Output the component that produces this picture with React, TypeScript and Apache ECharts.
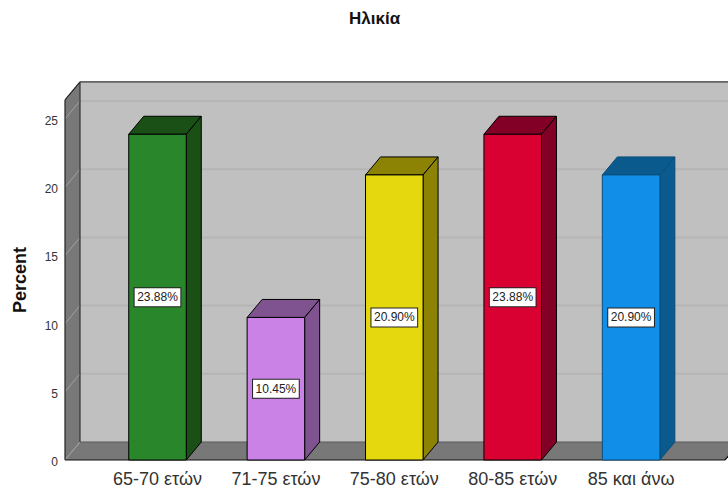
import React, { useEffect, useRef } from "react";
import * as echarts from "echarts";

const categories = ["65-70 ετών", "71-75 ετών", "75-80 ετών", "80-85 ετών", "85 και άνω"];
const percents = [23.88, 10.45, 20.9, 23.88, 20.9];
const frontColors = ["#29862a", "#cb82e6", "#e6d80e", "#d90032", "#118fe8"];
const sideColors = ["#1a5016", "#7f5290", "#8c8304", "#820026", "#0a5a8e"];
const edgeColors = ["#000000", "#000000", "#000000", "#000000", "#0a4f7c"];
const yTicks = [5, 10, 15, 20, 25];
const font = "Liberation Sans, Arial, sans-serif";

const DX = 15;
const DY = -18;
const WALL_TOP = 26.4;

function renderWalls(params: any, api: any) {
  const cs = params.coordSys;
  const x0 = cs.x - 33.3;
  const x1 = cs.x + cs.width + 34.7;
  const y0 = api.coord([0, 0])[1];
  const yTop = api.coord([0, WALL_TOP])[1];
  const line = (x1a: number, y1a: number, x2a: number, y2a: number, stroke: string, lineWidth = 1) => ({
    type: "line",
    silent: true,
    shape: { x1: x1a, y1: y1a, x2: x2a, y2: y2a },
    style: { stroke, lineWidth },
  });
  const children: any[] = [
    {
      type: "rect",
      shape: { x: x0 + DX, y: yTop + DY, width: x1 - x0, height: y0 - yTop },
      style: { fill: "#c0c0c0" },
    },
    {
      type: "polygon",
      shape: { points: [[x0, yTop], [x0 + DX, yTop + DY], [x0 + DX, y0 + DY], [x0, y0]] },
      style: { fill: "#787878" },
    },
    {
      type: "polygon",
      shape: { points: [[x0, y0], [x1, y0], [x1 + DX, y0 + DY], [x0 + DX, y0 + DY]] },
      style: { fill: "#787878" },
    },
  ];
  yTicks.forEach((t) => {
    const y = api.coord([0, t])[1];
    children.push(line(x0, y, x0 + DX, y + DY, "#a2a2a2"));
    children.push(line(x0 + DX, y + DY, x1 + DX, y + DY, "#b5b5b5", 2));
  });
  children.push(line(x0, y0, x0 + DX, y0 + DY, "#a2a2a2"));
  children.push(line(x0 + DX, y0 + DY, x1 + DX, y0 + DY, "#5a5a5a"));
  children.push(line(x0, yTop, x0, y0, "#222222", 1.2));
  children.push(line(x0 + DX, yTop + DY, x0 + DX, y0 + DY, "#333333", 1.2));
  children.push(line(x0, yTop, x0 + DX, yTop + DY, "#222222", 1.2));
  children.push(line(x0 + DX, yTop + DY, x1 + DX, yTop + DY, "#333333", 1.2));
  children.push(line(x0, y0, x1, y0, "#111111", 1.2));
  children.push(line(x1, y0, x1 + DX, y0 + DY, "#111111", 1.2));
  return { type: "group", children };
}

function renderBar(params: any, api: any) {
  const i = params.dataIndex;
  const value = api.value(1);
  const [cx, y0] = api.coord([i, 0]);
  const yv = api.coord([i, value])[1];
  const half = api.size([1, 0])[0] * 0.243;
  const l = cx - half;
  const r = cx + half;
  const edge = { stroke: edgeColors[i], lineWidth: 1, lineJoin: "round" };
  return {
    type: "group",
    children: [
      {
        type: "polygon",
        shape: { points: [[l, yv], [l + DX, yv + DY], [r + DX, yv + DY], [r, yv]] },
        style: { fill: sideColors[i], ...edge },
      },
      {
        type: "polygon",
        shape: { points: [[r, yv], [r + DX, yv + DY], [r + DX, y0 + DY], [r, y0]] },
        style: { fill: sideColors[i], ...edge },
      },
      {
        type: "rect",
        shape: { x: l, y: yv, width: r - l, height: y0 - yv },
        style: { fill: frontColors[i], ...edge },
      },
      {
        type: "text",
        x: cx,
        y: (yv + y0) / 2,
        style: {
          text: value.toFixed(2) + "%",
          align: "center",
          verticalAlign: "middle",
          fill: "#222222",
          font: "12px " + font,
          backgroundColor: "#ffffff",
          borderColor: "#222222",
          borderWidth: 1,
          padding: [3, 2.5, 3, 2.5],
        },
      },
    ],
  };
}

export default function App() {
  const ref = useRef<HTMLDivElement>(null);
  useEffect(() => {
    const chart = echarts.init(ref.current!, undefined, { renderer: "svg" });
    chart.setOption({
      animation: false,
      backgroundColor: "#ffffff",
      title: {
        text: "Ηλικία",
        left: 344,
        top: 5,
        textStyle: { fontFamily: font, fontSize: 17, fontWeight: "bold", color: "#111111" },
      },
      grid: { left: 98.3, right: 37.7, top: 119, bottom: 29, containLabel: false },
      xAxis: {
        type: "category",
        data: categories,
        axisLine: { show: false },
        axisTick: { show: false },
        axisLabel: { color: "#333333", fontFamily: font, fontSize: 18, margin: 10, interval: 0 },
      },
      yAxis: {
        type: "value",
        min: 0,
        max: 25,
        interval: 5,
        offset: 33.3,
        splitLine: { show: false },
        axisLine: { show: false },
        axisTick: { show: false },
        axisLabel: {
          color: "#333333",
          margin: 7,
          formatter: "{a|{value}}",
          rich: { a: { color: "#333333", fontFamily: font, fontSize: 12, padding: [4, 0, 0, 0] } },
        },
      },
      graphic: [
        {
          type: "text",
          x: 19.5,
          y: 280,
          rotation: Math.PI / 2,
          style: {
            text: "Percent",
            align: "center",
            verticalAlign: "middle",
            fill: "#111111",
            font: "bold 18px " + font,
          },
        },
      ],
      series: [
        { type: "custom", name: "walls", z: 1, silent: true, clip: false, renderItem: renderWalls, data: [[0, 0]] },
        {
          type: "custom",
          name: "Percent",
          z: 2,
          clip: false,
          renderItem: renderBar,
          encode: { x: 0, y: 1 },
          data: percents.map((v, i) => [i, v]),
        },
      ],
    });
    return () => chart.dispose();
  }, []);
  return <div ref={ref} style={{ position: "fixed", left: 0, top: 0, width: 728, height: 489 }} />;
}
